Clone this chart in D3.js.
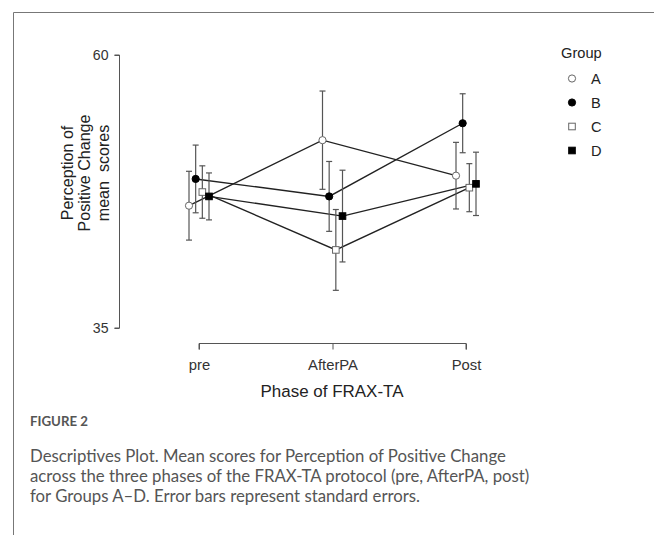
<!DOCTYPE html>
<html>
<head>
<meta charset="utf-8">
<script src="https://cdn.jsdelivr.net/npm/d3@7"></script>
<style>
  body { margin: 0; background: #fff; }
  svg { display: block; }
</style>
</head>
<body>
<svg id="chart" width="654" height="535"></svg>
<script>
// phases on the x axis and the four groups
var phases = ['pre', 'AfterPA', 'Post'];
var groups = ['A', 'B', 'C', 'D'];

// mean scores per group, one value per phase
var meanA = [46.2, 52.2, 48.95];
var meanB = [48.65, 47.05, 53.75];
var meanC = [47.45, 42.15, 47.85];
var meanD = [47.05, 45.25, 48.2];

// standard errors per group
var seA = [3.15, 4.5, 3.05];
var seB = [3.1, 3.2, 2.7];
var seC = [2.4, 3.7, 2.2];
var seD = [2.15, 4.2, 2.9];

var yTicks = [35, 60];

var caption = [
  'Descriptives Plot. Mean scores for Perception of Positive Change',
  'across the three phases of the FRAX-TA protocol (pre, AfterPA, post)',
  'for Groups A\u2013D. Error bars represent standard errors.'
];

var means = [meanA, meanB, meanC, meanD];
var ses = [seA, seB, seC, seD];
var filled = { A: false, B: true, C: false, D: true };
var shape = { A: 'circle', B: 'circle', C: 'square', D: 'square' };

var svg = d3.select('#chart');
var font = "'Liberation Sans', Arial, sans-serif";
var capFont = "'Lato', 'Open Sans', sans-serif";

// scale a text's font size so its width matches what the reference shows
function fitWidth(sel, target) {
  var fs = parseFloat(sel.attr('font-size'));
  var w = sel.node().getComputedTextLength();
  if (w > 0) sel.attr('font-size', (fs * target / w).toFixed(2));
  return sel;
}

// frame lines of the figure box
svg.append('line').attr('x1', 13.5).attr('x2', 654).attr('y1', 12.5).attr('y2', 12.5)
  .attr('stroke', '#777').attr('stroke-width', 1);
svg.append('line').attr('x1', 13.5).attr('x2', 13.5).attr('y1', 12.5).attr('y2', 535)
  .attr('stroke', '#777').attr('stroke-width', 1);

// scales
var x = d3.scalePoint().domain(phases).range([199, 466]);
var dodge = d3.scalePoint().domain(groups).range([-10, 10]);
var y = d3.scaleLinear().domain([35, 60]).range([328, 55]);

// y axis
var yAxis = svg.append('g')
  .attr('transform', 'translate(119.5,0)')
  .call(d3.axisLeft(y).tickValues(yTicks).tickSize(5).tickPadding(6));
yAxis.attr('font-family', null).attr('font-size', null);
yAxis.select('.domain').attr('stroke', '#555').attr('d', 'M-5,' + y(60) + 'H0V' + y(35) + 'H-5');
yAxis.selectAll('.tick line').attr('stroke', '#555');
yAxis.selectAll('.tick text')
  .style('font-family', font).attr('font-size', 14).attr('fill', '#333')
  .each(function() { fitWidth(d3.select(this), 15.7); });

// x axis
var xAxis = svg.append('g')
  .attr('transform', 'translate(0,343.5)')
  .call(d3.axisBottom(x).tickSize(6).tickPadding(10));
xAxis.attr('font-family', null).attr('font-size', null);
xAxis.select('.domain').attr('stroke', '#555').attr('d', 'M' + x('pre') + ',6V0H' + x('Post') + 'V6');
xAxis.selectAll('.tick line').attr('stroke', '#555');
xAxis.selectAll('.tick text')
  .style('font-family', font).attr('font-size', 14).attr('fill', '#333');
fitWidth(xAxis.selectAll('.tick text').filter(function(d) { return d === 'AfterPA'; }), 50);
var tickFs = xAxis.selectAll('.tick text').filter(function(d) { return d === 'AfterPA'; }).attr('font-size');
xAxis.selectAll('.tick text').attr('font-size', tickFs);

// axis titles
var xTitle = svg.append('text')
  .attr('x', 332).attr('y', 397)
  .attr('text-anchor', 'middle')
  .style('font-family', font).attr('font-size', 16).attr('fill', '#222')
  .text('Phase of FRAX-TA');
fitWidth(xTitle, 143);

var ylab = svg.append('text')
  .attr('transform', 'translate(0,173) rotate(-90)')
  .attr('text-anchor', 'middle')
  .style('font-family', font).attr('font-size', 14).attr('fill', '#222')
  .attr('xml:space', 'preserve');
var yl2 = ylab.append('tspan').attr('x', 0).attr('y', 90).text('Positive Change');
ylab.append('tspan').attr('x', 0).attr('y', 72.5).text('Perception of');
ylab.append('tspan').attr('x', 0).attr('y', 108.5).text('mean  scores');
var w2 = yl2.node().getComputedTextLength();
ylab.attr('font-size', (14 * 117 / w2).toFixed(2));

// series data
var series = groups.map(function(g, i) {
  return {
    group: g,
    values: phases.map(function(p, j) {
      return { phase: p, mean: means[i][j], se: ses[i][j] };
    })
  };
});

function px(g, p) { return x(p) + dodge(g); }

// connecting lines
var line = d3.line()
  .x(function(d) { return d.px; })
  .y(function(d) { return y(d.mean); });

series.forEach(function(s) {
  var pts = s.values.map(function(v) { return { px: px(s.group, v.phase), mean: v.mean }; });
  svg.append('path')
    .attr('d', line(pts))
    .attr('fill', 'none').attr('stroke', '#222').attr('stroke-width', 1.4);
});

// error bars
var cap = 3;
series.forEach(function(s) {
  var eb = svg.append('g').attr('stroke', '#555').attr('stroke-width', 1.2);
  s.values.forEach(function(v) {
    var cx = px(s.group, v.phase);
    var top = y(v.mean + v.se), bot = y(v.mean - v.se);
    eb.append('line').attr('x1', cx).attr('x2', cx).attr('y1', top).attr('y2', bot);
    eb.append('line').attr('x1', cx - cap).attr('x2', cx + cap).attr('y1', top).attr('y2', top);
    eb.append('line').attr('x1', cx - cap).attr('x2', cx + cap).attr('y1', bot).attr('y2', bot);
  });
});

// markers
function drawMarker(sel, g, cx, cy) {
  var fill = filled[g] ? '#000' : '#fff';
  var stroke = filled[g] ? '#000' : '#666';
  if (shape[g] === 'circle') {
    sel.append('circle').attr('cx', cx).attr('cy', cy).attr('r', 3.6)
      .attr('fill', fill).attr('stroke', stroke).attr('stroke-width', 1);
  } else {
    sel.append('rect').attr('x', cx - 3.3).attr('y', cy - 3.3).attr('width', 6.6).attr('height', 6.6)
      .attr('fill', fill).attr('stroke', stroke).attr('stroke-width', 1);
  }
}

series.forEach(function(s) {
  s.values.forEach(function(v) {
    drawMarker(svg, s.group, px(s.group, v.phase), y(v.mean));
  });
});

// legend
var legend = svg.append('g');
var gTitle = legend.append('text')
  .attr('x', 561).attr('y', 57.5)
  .style('font-family', font).attr('font-size', 14).attr('fill', '#222')
  .text('Group');
fitWidth(gTitle, 40.7);
groups.forEach(function(g, i) {
  var ly = 78.5 + i * 24;
  drawMarker(legend, g, 572, ly);
  legend.append('text')
    .attr('x', 591).attr('y', ly + 5)
    .style('font-family', font).attr('font-size', gTitle.attr('font-size')).attr('fill', '#222')
    .text(g);
});

// caption
var figLab = svg.append('text')
  .attr('x', 30).attr('y', 426)
  .style('font-family', capFont).attr('font-size', 14).attr('font-weight', 700)
  .attr('fill', '#555')
  .text('FIGURE 2');
fitWidth(figLab, 58);

var capFs = null;
caption.forEach(function(t, i) {
  var tx = svg.append('text')
    .attr('x', 30).attr('y', 462 + i * 20)
    .style('font-family', capFont).attr('font-size', 17)
    .attr('fill', '#555')
    .text(t);
  if (i === 0) { fitWidth(tx, 476); capFs = tx.attr('font-size'); }
  else tx.attr('font-size', capFs);
});
</script>
</body>
</html>
